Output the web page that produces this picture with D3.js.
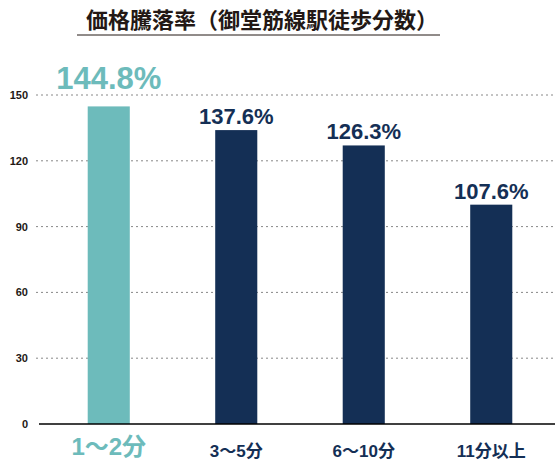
<!DOCTYPE html>
<html><head><meta charset="utf-8">
<script src="https://cdn.jsdelivr.net/npm/d3@7"></script>
<style>body{margin:0;background:#fff}text{font-family:"Liberation Sans","Noto Sans CJK JP",sans-serif}</style>
</head><body><div id="chart"></div>
<script>
var categories = ["1〜2分", "3〜5分", "6〜10分", "11分以上"];
var values = [144.8, 134, 127, 100];
var labels = ["144.8%", "137.6%", "126.3%", "107.6%"];
var ticks = [0, 30, 60, 90, 120, 150];

var width = 560, height = 470;
var svg = d3.select("#chart").append("svg").attr("width", width).attr("height", height);

// title
svg.append("text").attr("x", 262).attr("y", 28).attr("text-anchor", "middle")
    .attr("font-size", 22).attr("font-weight", "bold").attr("fill", "#231815")
    .attr("font-family", "Noto Sans CJK JP")
    .text("価格騰落率（御堂筋線駅徒歩分数）");
svg.append("line").attr("x1", 77).attr("x2", 440).attr("y1", 35).attr("y2", 35)
    .attr("stroke", "#231815").attr("stroke-width", 1);

var x = d3.scaleBand().domain(categories).range([45, 555]).paddingInner(0.67).paddingOuter(0.335);
var y = d3.scaleLinear().domain([0, 150]).range([424, 95]);

// grid
svg.selectAll(".grid").data(ticks.filter(function (d) { return d > 0; })).enter().append("line")
    .attr("x1", 36).attr("x2", 555)
    .attr("y1", function (d) { return y(d); }).attr("y2", function (d) { return y(d); })
    .attr("stroke", "#888").attr("stroke-dasharray", "2,3");

svg.selectAll(".tick").data(ticks).enter().append("text")
    .attr("x", 28).attr("y", function (d) { return y(d) + 4; })
    .attr("text-anchor", "end").attr("font-size", 11).attr("font-weight", "bold").attr("fill", "#231815")
    .text(function (d) { return d; });

svg.selectAll("rect").data(values).enter().append("rect")
    .attr("x", function (d, i) { return x(categories[i]); })
    .attr("y", function (d) { return y(d); })
    .attr("width", x.bandwidth())
    .attr("height", function (d) { return y(0) - y(d); })
    .attr("fill", function (d, i) { return i == 0 ? "#6dbbbb" : "#142f55"; });

svg.append("line").attr("x1", 39).attr("x2", 555).attr("y1", 424).attr("y2", 424)
    .attr("stroke", "#000").attr("stroke-width", 1.5);

svg.selectAll(".val").data(values).enter().append("text")
    .attr("x", function (d, i) { return x(categories[i]) + x.bandwidth() / 2; })
    .attr("y", function (d, i) { return y(d) - (i == 0 ? 17 : 6); })
    .attr("text-anchor", "middle").attr("font-weight", "bold")
    .attr("font-size", function (d, i) { return i == 0 ? 31 : 22; })
    .attr("fill", function (d, i) { return i == 0 ? "#6dbbbb" : "#142f55"; })
    .text(function (d, i) { return labels[i]; });

svg.selectAll(".cat").data(categories).enter().append("text")
    .attr("x", function (d) { return x(d) + x.bandwidth() / 2; })
    .attr("y", function (d, i) { return i == 0 ? 455 : 457; })
    .attr("text-anchor", "middle").attr("font-weight", "bold")
    .attr("font-size", function (d, i) { return i == 0 ? 24 : 17; })
    .attr("fill", function (d, i) { return i == 0 ? "#6dbbbb" : "#142f55"; })
    .text(function (d) { return d; });
</script></body></html>
